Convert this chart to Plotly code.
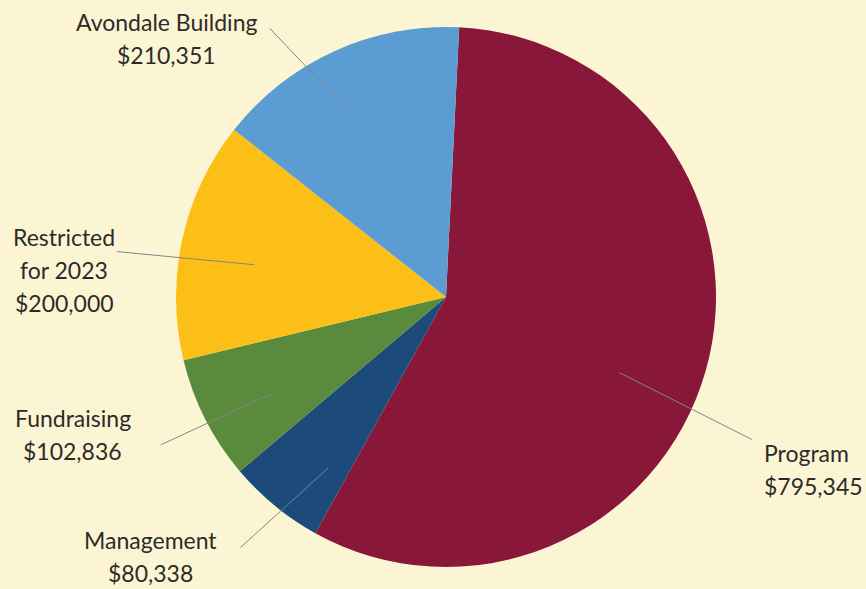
import math
import plotly.graph_objects as go

# ---- data ----
categories = ["Program", "Management", "Fundraising", "Restricted for 2023", "Avondale Building"]
label_lines = [["Program", "$795,345"],
               ["Management", "$80,338"],
               ["Fundraising", "$102,836"],
               ["Restricted", "for 2023", "$200,000"],
               ["Avondale Building", "$210,351"]]
values = [795345, 80338, 102836, 200000, 210351]
colors = ["#88173a", "#1c4a7b", "#5a8b3d", "#fcbf17", "#5b9cd3"]

# ---- layout constants ----
W, H = 866, 589
CX, CY, R = 446, 297, 270
ROT = 2.8
BG = "#fcf5d3"
TXT = "#2d2b2a"
FONT = "Lato"
FS = 23
LINE_GAP = 33
# per-label leader/text placement:
# (inner angle tweak, inner radius frac, outer angle tweak, outer radius frac, xanchor, dx, dy_first_line)
placement = [(7.7, 0.70, 9.1, 1.25, "left", 10, 13),
             (-4.8, 0.77, 0.0, 1.20, "center", -90, -7),
             (-2.1, 0.74, -0.5, 1.19, "center", -88, -27),
             (-2.8, 0.72, -4.5, 1.23, "center", -53, -15),
             (-3.3, 0.78, -8.8, 1.19, "center", -103, -6)]

fig = go.Figure(go.Pie(
    labels=categories, values=values, sort=False, direction="clockwise",
    rotation=ROT, textinfo="none", hoverinfo="label+value",
    marker=dict(colors=colors, line=dict(width=0)),
    domain=dict(x=[(CX - R) / W, (CX + R) / W], y=[1 - (CY + R) / H, 1 - (CY - R) / H]),
    showlegend=False,
))

def px2paper(x, y):
    return x / W, 1 - y / H

def polar(ang, rf):
    a = math.radians(ang)
    return CX + rf * R * math.sin(a), CY - rf * R * math.cos(a)

total = sum(values)
cum = 0.0
shapes, annotations = [], []
for v, lines, (ti, ri, to, ro, xa, dx, dy) in zip(values, label_lines, placement):
    mid = ROT + 360 * (cum + v / 2) / total
    cum += v
    sx, sy = polar(mid + ti, ri)
    ex, ey = polar(mid + to, ro)
    x0, y0 = px2paper(sx, sy)
    x1, y1 = px2paper(ex, ey)
    shapes.append(dict(type="line", xref="paper", yref="paper", x0=x0, y0=y0, x1=x1, y1=y1,
                       line=dict(color="#858585", width=1)))
    for i, t in enumerate(lines):
        ax, ay = px2paper(ex + dx, ey + dy + i * LINE_GAP)
        annotations.append(dict(x=ax, y=ay, xref="paper", yref="paper", text=t, showarrow=False,
                                xanchor=xa, yanchor="middle",
                                font=dict(family=FONT, size=FS, color=TXT)))

fig.update_layout(
    width=W, height=H, margin=dict(l=0, r=0, t=0, b=0),
    paper_bgcolor=BG, plot_bgcolor=BG,
    shapes=shapes, annotations=annotations,
)
fig.write_html("out.html", config={"displayModeBar": False},
               post_script="document.body.style.margin='0';document.body.style.background='%s';" % BG)
